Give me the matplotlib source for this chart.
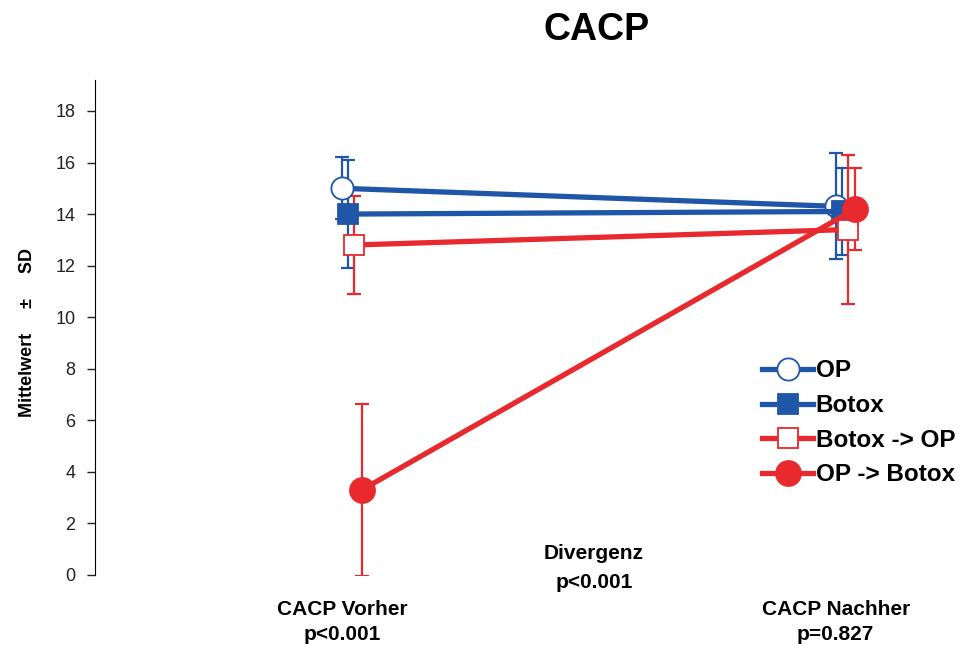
import matplotlib.pyplot as plt
import numpy as np

plt.rcParams['font.family'] = ['Liberation Sans', 'DejaVu Sans']

groups = ['CACP Vorher\np<0.001', 'CACP Nachher\np=0.827']
series = ['OP', 'Botox', 'Botox -> OP', 'OP -> Botox']
means = [[15.0, 14.3], [14.0, 14.1], [12.8, 13.4], [3.3, 14.2]]
sds = [[1.2, 2.05], [2.1, 1.7], [1.9, 2.9], [3.35, 1.6]]

blue = '#1f56a8'
red = '#e8292e'
colors = [blue, blue, red, red]
markers = ['o', 's', 's', 'o']
faces = ['white', blue, 'white', red]
msizes = [16, 15, 15, 18]
offsets = [-0.02, -0.008, 0.004, 0.02]

fig = plt.figure(figsize=(9.63, 6.5), dpi=100)
ax = fig.add_axes([0.0987, 0.1154, 0.88, 0.7615])

x = np.arange(len(groups))
for i, name in enumerate(series):
    xs = x + offsets[i]
    ax.errorbar(xs, means[i], yerr=sds[i], fmt='none', ecolor=colors[i],
                elinewidth=1.6, capsize=5, capthick=1.6, zorder=2)
    ax.plot(xs, means[i], color=colors[i], lw=3.8, marker=markers[i],
            ms=msizes[i], mfc=faces[i], mec=colors[i], mew=1.3,
            label=name, zorder=3 + i)

ax.set_ylim(0, 19.2)
ax.set_xlim((95 - 352) / 494, (943 - 352) / 494)
ax.set_yticks(np.arange(0, 19, 2))
ax.tick_params(axis='y', direction='out', length=6, width=1,
               labelsize=13, colors='#222222', pad=8)
ax.set_xticks(x - 0.02)
ax.set_xticklabels(groups, fontsize=15, fontweight='bold', linespacing=1.4)
ax.tick_params(axis='x', length=0, pad=18)
for s in ['top', 'right', 'bottom']:
    ax.spines[s].set_visible(False)
ax.spines['left'].set_bounds(0, 19.2)

ax.set_ylabel('Mittelwert     \u00b1     SD', fontsize=13, fontweight='bold')
ax.yaxis.set_label_coords(-0.07, 0.49)
ax.text(0.49, 1.2, 'Divergenz\np<0.001', ha='center', va='top',
        fontsize=15, fontweight='bold', linespacing=1.65)

fig.text(0.619, 1 - 40 / 650, 'CACP', ha='center', va='baseline',
         fontsize=27, fontweight='bold')

leg = ax.legend(loc='upper left', bbox_to_anchor=(0.773, 0.46), frameon=False,
                fontsize=17.5, handlelength=2.1, handletextpad=0.1,
                labelspacing=0.48, borderpad=0)
for t in leg.get_texts():
    t.set_fontweight('bold')

fig.savefig('out.png', dpi=100)
